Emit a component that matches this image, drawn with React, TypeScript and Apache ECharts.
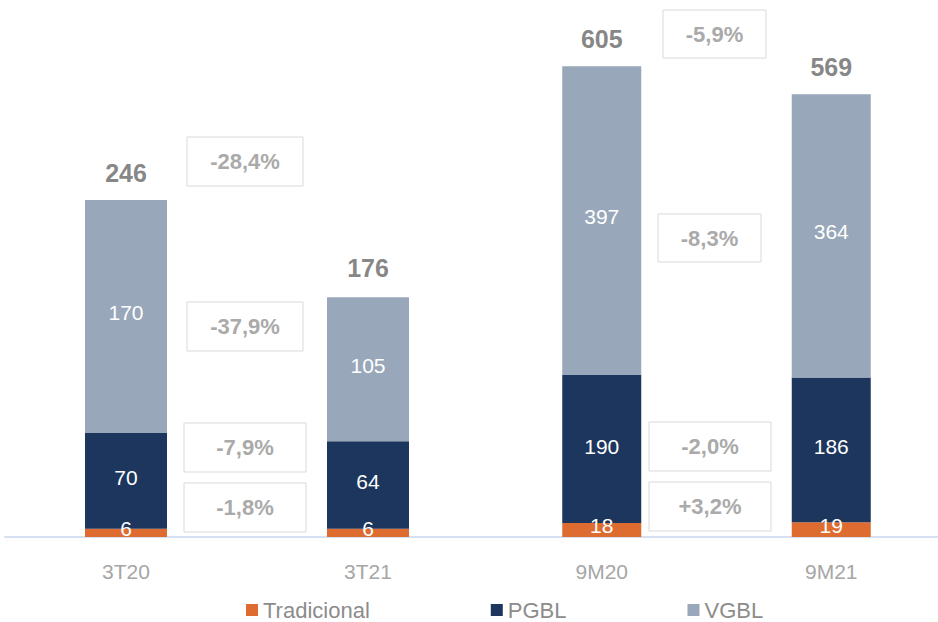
import React, { useEffect, useRef } from "react";
import * as echarts from "echarts";

// ---- Data ----
const quarterCategories = ["3T20", "3T21"];
const ytdCategories = ["9M20", "9M21"];
const seriesNames = ["Tradicional", "PGBL", "VGBL"];

const tradicionalQuarter = [6, 6];
const pgblQuarter = [70, 64];
const vgblQuarter = [170, 105];
const totalQuarter = [246, 176];

const tradicionalYtd = [18, 19];
const pgblYtd = [190, 186];
const vgblYtd = [397, 364];
const totalYtd = [605, 569];

// Variation annotations (text only)
const variationLabels = ["-28,4%", "-37,9%", "-7,9%", "-1,8%", "-5,9%", "-8,3%", "-2,0%", "+3,2%"];

// ---- Styles / layout ----
const COLORS = ["#DE6C30", "#1C365D", "#98A7B9"];
const LABEL_OFFSETS = [[0, -4], [0, -3], [0, -4]];
const FONT = "'Liberation Sans', Arial, sans-serif";
const annotationBoxes = [
  [187, 137, 116, 49],
  [187, 302, 116, 49],
  [184, 423, 122, 49],
  [184, 483, 122, 49],
  [663, 10, 103, 48],
  [658, 214, 103, 48],
  [649, 422, 122, 49],
  [649, 482, 122, 49],
];

function buildGridSeries(
  gridIndex: number,
  values: number[][],
  totals: number[],
  barWidth: number
) {
  const list: any[] = values.map((vals, i) => ({
    name: seriesNames[i],
    type: "bar",
    stack: "s" + gridIndex,
    xAxisIndex: gridIndex,
    yAxisIndex: gridIndex,
    barWidth,
    data: vals,
    itemStyle: { color: COLORS[i] },
    label: {
      show: true,
      position: "inside",
      offset: LABEL_OFFSETS[i],
      color: "#ffffff",
      fontSize: 21,
      fontFamily: FONT,
    },
  }));
  list.push({
    name: "Total" + gridIndex,
    type: "scatter",
    xAxisIndex: gridIndex,
    yAxisIndex: gridIndex,
    symbolSize: 0,
    data: totals,
    label: {
      show: true,
      position: "top",
      distance: 15,
      color: "#666666",
      fontSize: 25,
      fontWeight: "bold",
      fontFamily: FONT,
    },
  });
  return list;
}

export default function App() {
  const ref = useRef<HTMLDivElement>(null);

  useEffect(() => {
    document.body.style.margin = "0";
    if (!ref.current) return;
    const chart = echarts.init(ref.current, null, { renderer: "svg" });

    const xAxisCommon = {
      type: "category",
      axisLine: { show: true, lineStyle: { color: "#D6E0F0", width: 2 } },
      axisTick: { show: false },
      axisLabel: { color: "#A6A6A6", fontSize: 21, fontFamily: FONT, margin: 24 },
    };
    const yAxisCommon = { type: "value", show: false, min: 0, splitLine: { show: false } };

    const graphicEls = annotationBoxes.map((b, i) => ({
      type: "group",
      x: b[0],
      y: b[1],
      children: [
        {
          type: "rect",
          shape: { x: 0, y: 0, width: b[2], height: b[3] },
          style: { fill: "#ffffff", stroke: "#D9D9D9", lineWidth: 1 },
        },
        {
          type: "text",
          style: {
            text: variationLabels[i],
            x: b[2] / 2,
            y: b[3] / 2,
            align: "center",
            verticalAlign: "middle",
            textAlign: "center",
            textVerticalAlign: "middle",
            fill: "#AAAAAA",
            font: "bold 22px " + FONT,
          },
        },
      ],
    }));

    chart.setOption({
      animation: false,
      backgroundColor: "#ffffff",
      grid: [
        { left: 5, top: 7, width: 484, height: 530, outerBoundsMode: "none", containLabel: false },
        { left: 487, top: 7, width: 459, height: 530, outerBoundsMode: "none", containLabel: false },
      ],
      xAxis: [
        { ...xAxisCommon, gridIndex: 0, data: quarterCategories },
        { ...xAxisCommon, gridIndex: 1, data: ytdCategories },
      ],
      yAxis: [
        { ...yAxisCommon, gridIndex: 0, max: 387 },
        { ...yAxisCommon, gridIndex: 1, max: 681 },
      ],
      legend: {
        data: seriesNames,
        left: 246,
        top: 599,
        padding: 0,
        icon: "rect",
        itemWidth: 12,
        itemHeight: 12,
        itemGap: 121,
        textStyle: { color: "#8C8C8C", fontSize: 22, fontFamily: FONT },
      },
      graphic: graphicEls,
      series: [
        ...buildGridSeries(0, [tradicionalQuarter, pgblQuarter, vgblQuarter], totalQuarter, 82),
        ...buildGridSeries(1, [tradicionalYtd, pgblYtd, vgblYtd], totalYtd, 79),
      ],
    });

    return () => chart.dispose();
  }, []);

  return <div ref={ref} style={{ width: 938, height: 622 }} />;
}
